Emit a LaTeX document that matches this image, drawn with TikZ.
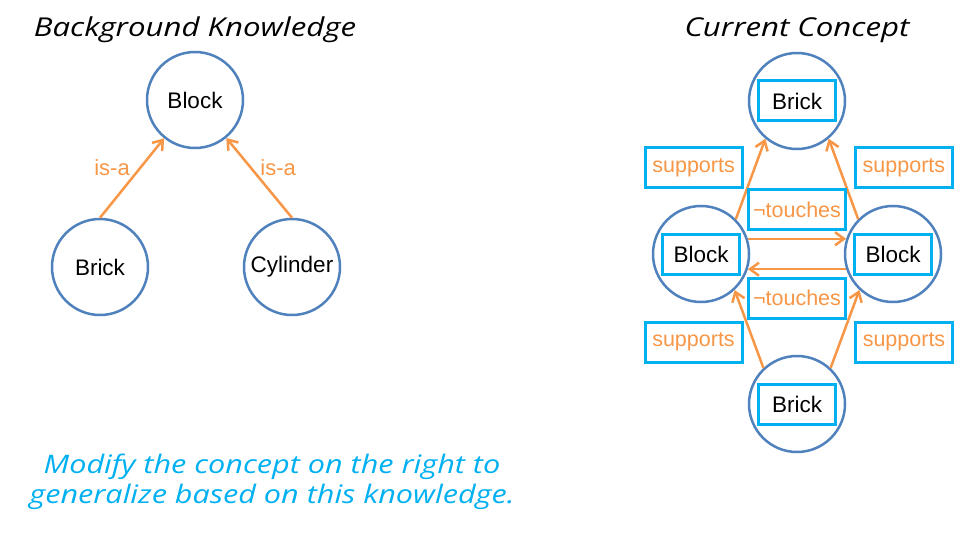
\documentclass[tikz,border=0pt]{standalone}
\usepackage{fontspec}
\setmainfont{Liberation Sans}
\newfontfamily\handfont[FakeStretch=1.2]{Open Sans}
\usetikzlibrary{arrows.meta,positioning,calc}
\definecolor{edgeorange}{HTML}{F79646}
\definecolor{ringblue}{HTML}{4F81BD}
\definecolor{boxcyan}{HTML}{00B0F0}
\tikzstyle{concept}=[circle, line width=2.5pt, minimum size=96pt, inner sep=0pt, draw=ringblue, font=\fontsize{22.5}{26}\selectfont]
\tikzstyle{objbox}=[rectangle, line width=3pt, draw=boxcyan, minimum width=77pt, minimum height=40pt, inner sep=0pt, font=\fontsize{22.5}{26}\selectfont]
\tikzstyle{relbox}=[rectangle, line width=3pt, draw=boxcyan, text=edgeorange, minimum width=97pt, minimum height=40pt, inner sep=0pt, font=\fontsize{21.5}{26}\selectfont]
\tikzstyle{isalabel}=[text=edgeorange, inner sep=0pt, font=\fontsize{22}{26}\selectfont]
\tikzstyle{connect}=[-{Straight Barb[length=9pt,width=13pt]}, line width=2.5pt, draw=edgeorange]
\tikzstyle{heading}=[font=\handfont\itshape\fontsize{26}{30}\selectfont]

\begin{document}
\begin{tikzpicture}[x=1pt,y=-1pt]
  \useasboundingbox (0,0) rectangle (960,540);

  % background knowledge
  \node[heading] (bgTitle) at (195,30) {Background Knowledge};
  \node[concept] (Block) at (195,100) {Block};
  \node[concept] (Brick) [below=68.5pt of Block,xshift=-95pt] {Brick};
  \node[concept] (Cyl) [right=93.5pt of Brick] {Cylinder};

  \path (Brick.north) edge [connect] node [isalabel,xshift=-20pt,yshift=10pt] {is-a} (Block)
        (Cyl.north) edge [connect] node [isalabel,xshift=19pt,yshift=10pt] {is-a} (Block);

  % current concept
  \node[heading] (ccTitle) at (797,30) {Current Concept};
  \node[concept] (TB) at (797,101) {};
  \node[concept] (LB) [below=54.5pt of TB,xshift=-96pt] {};
  \node[concept] (RB) [right=93.5pt of LB] {};
  \node[concept] (BB) [below=51.5pt of LB,xshift=96pt] {};
  \node[objbox] (TBtext) at (TB) {Brick};
  \node[objbox] (LBtext) at (LB) {Block};
  \node[objbox] (RBtext) at (RB) {Block};
  \node[objbox] (BBtext) at (BB) {Brick};

  \path (LB.45) edge [connect] node [relbox,xshift=-57pt,yshift=11pt] {supports} (TB.230)
        (RB.135) edge [connect] node [relbox,xshift=60.5pt,yshift=11pt] {supports} (TB.310)
        (LB.18) edge [connect] node [relbox,yshift=29.3pt] {¬touches} (RB.162)
        (RB.198) edge [connect] node [relbox,yshift=-28.8pt] {¬touches} (LB.-18)
        (BB.133) edge [connect] node [relbox,xshift=-55.5pt,yshift=-13pt] {supports} (LB.313)
        (BB.47) edge [connect] node [relbox,xshift=59pt,yshift=-13pt] {supports} (RB.227);

  % task
  \node[heading, text=boxcyan, align=center, font=\handfont\itshape\fontsize{25.5}{30}\selectfont] (task) at (272,482)
    {Modify the concept on the right to\\generalize based on this knowledge.};
\end{tikzpicture}
\end{document}
